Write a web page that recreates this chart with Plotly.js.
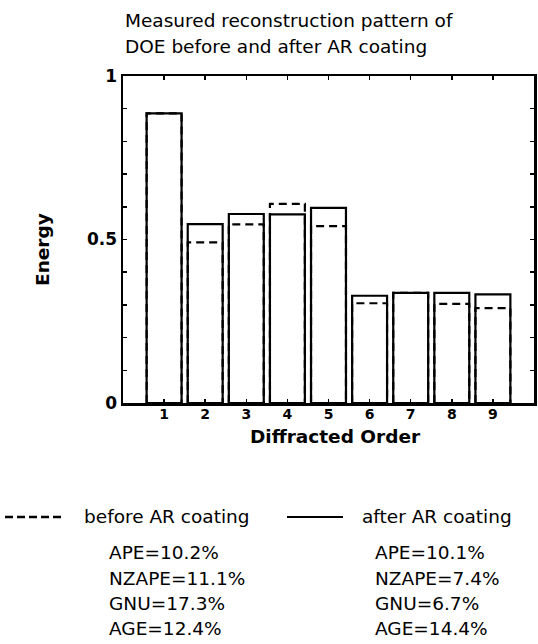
<!DOCTYPE html>
<html>
<head>
<meta charset="utf-8">
<script src="https://cdn.plot.ly/plotly-3.0.1.min.js"></script>
<style>html,body{margin:0;padding:0;background:#fff;}#chart{width:538px;height:644px;}</style>
</head>
<body>
<div id="chart"></div>
<script>
// ---- data ----
const orders = [1, 2, 3, 4, 5, 6, 7, 8, 9];
const afterVals  = [0.886, 0.547, 0.578, 0.577, 0.597, 0.328, 0.337, 0.337, 0.332];
const beforeVals = [0.886, 0.491, 0.546, 0.609, 0.541, 0.305, 0.337, 0.303, 0.290];
const yTickVals = [0, 0.5, 1];
const yTickText = ['0', '0.5', '1'];
const xTickText = ['1', '2', '3', '4', '5', '6', '7', '8', '9'];
const statNames = ['APE', 'NZAPE', 'GNU', 'AGE'];
const beforeStats = ['10.2%', '11.1%', '17.3%', '12.4%'];
const afterStats  = ['10.1%', '7.4%', '6.7%', '14.4%'];
const titleLines = ['Measured reconstruction pattern of', 'DOE before and after AR coating'];
const legendLabels = ['before AR coating', 'after AR coating'];

// ---- layout helpers (pixel -> paper) ----
const W = 538, H = 644;
const M = {l: 123, r: 4, t: 76, b: 241};
const PW = W - M.l - M.r, PH = H - M.t - M.b;
const px = x => (x - M.l) / PW;
const py = y => (H - M.b - y) / PH;

const FONT = 'DejaVu Sans, Liberation Sans, Arial, sans-serif';
const TXT = 18.5;

const traces = [
  {type: 'bar', x: orders, y: beforeVals, width: 0.85, name: legendLabels[0],
   marker: {color: 'rgba(0,0,0,0)', line: {color: '#000', width: 2.2}}, hoverinfo: 'skip'},
  {type: 'bar', x: orders, y: afterVals, width: 0.85, name: legendLabels[1],
   marker: {color: 'rgba(0,0,0,0)', line: {color: '#000', width: 2.2}}, hoverinfo: 'skip'}
];

const annotations = [];
titleLines.forEach((t, i) => annotations.push({
  xref: 'paper', yref: 'paper', x: px(123), y: py(21 + i * 25), xanchor: 'left', yanchor: 'middle',
  text: t, showarrow: false, font: {family: FONT, size: TXT, color: '#000'}
}));
annotations.push({xref: 'paper', yref: 'paper', x: px(43), y: py(250), textangle: -90,
  text: '<b>Energy</b>', showarrow: false, xanchor: 'center', yanchor: 'middle',
  font: {family: FONT, size: 18.5, color: '#000'}});
annotations.push({xref: 'paper', yref: 'paper', x: px(335), y: py(436),
  text: '<b>Diffracted Order</b>', showarrow: false, xanchor: 'center', yanchor: 'middle',
  font: {family: FONT, size: 18.5, color: '#000'}});
annotations.push({xref: 'paper', yref: 'paper', x: px(82), y: py(516), xanchor: 'left', yanchor: 'middle',
  text: legendLabels[0], showarrow: false, font: {family: FONT, size: TXT, color: '#000'}});
annotations.push({xref: 'paper', yref: 'paper', x: px(360), y: py(516), xanchor: 'left', yanchor: 'middle',
  text: legendLabels[1], showarrow: false, font: {family: FONT, size: TXT, color: '#000'}});
const rowY = [552, 578, 603, 628];
statNames.forEach((n, i) => {
  annotations.push({xref: 'paper', yref: 'paper', x: px(107), y: py(rowY[i]), xanchor: 'left', yanchor: 'middle',
    text: n + '=' + beforeStats[i], showarrow: false, font: {family: FONT, size: TXT, color: '#000'}});
  annotations.push({xref: 'paper', yref: 'paper', x: px(373), y: py(rowY[i]), xanchor: 'left', yanchor: 'middle',
    text: n + '=' + afterStats[i], showarrow: false, font: {family: FONT, size: TXT, color: '#000'}});
});

const shapes = [
  {type: 'line', xref: 'paper', yref: 'paper', x0: px(5), x1: px(63), y0: py(517), y1: py(517),
   line: {color: '#000', width: 2.5, dash: '8px,4px'}},
  {type: 'line', xref: 'paper', yref: 'paper', x0: px(287), x1: px(343), y0: py(517), y1: py(517),
   line: {color: '#000', width: 2}}
];

const layout = {
  width: W, height: H, margin: M,
  paper_bgcolor: '#fff', plot_bgcolor: '#fff',
  showlegend: false, barmode: 'overlay',
  font: {family: FONT, color: '#000'},
  xaxis: {range: [0, 10], tickvals: orders, ticktext: xTickText, ticks: 'inside', ticklen: 4,
    tickwidth: 1.5, tickcolor: '#000', showgrid: false, zeroline: false, showline: true,
    linecolor: '#000', linewidth: 2.5, mirror: 'ticks', ticklabelstandoff: -3,
    tickfont: {family: FONT, size: 14, weight: 'bold'}},
  yaxis: {range: [0, 1], tickvals: yTickVals, ticktext: yTickText, ticks: 'inside', ticklen: 4,
    tickwidth: 1.5, tickcolor: '#000', showgrid: false, zeroline: false, showline: true,
    linecolor: '#000', linewidth: 2.5, mirror: 'ticks', ticklabelstandoff: 0,
    tickfont: {family: FONT, size: 17, weight: 'bold'},
    minor: {dtick: 0.1, ticks: 'inside', ticklen: 4, tickwidth: 1.5, tickcolor: '#000', showgrid: false}},
  annotations: annotations, shapes: shapes
};

Plotly.newPlot('chart', traces, layout, {staticPlot: true}).then(gd => {
  const groups = gd.querySelectorAll('.barlayer .trace');
  if (groups.length) {
    groups[0].querySelectorAll('path').forEach(p => { p.style.strokeDasharray = '8,5'; });
  }
});
</script>
</body>
</html>
